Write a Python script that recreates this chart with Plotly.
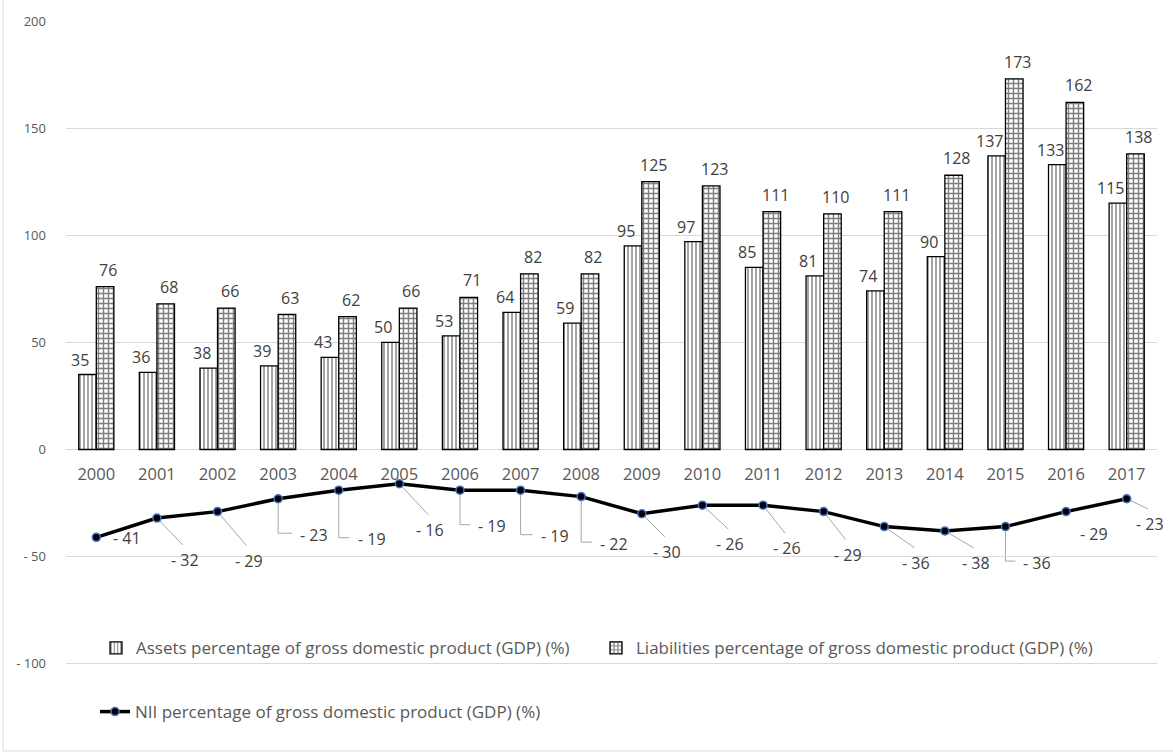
import numpy as np
import plotly.graph_objects as go

# ---- data -------------------------------------------------------------
years = [str(y) for y in range(2000, 2018)]
assets = [35, 36, 38, 39, 43, 50, 53, 64, 59, 95, 97, 85, 81, 74, 90, 137, 133, 115]
liabilities = [76, 68, 66, 63, 62, 66, 71, 82, 82, 125, 123, 111, 110, 111, 128, 173, 162, 138]
nii = [-41, -32, -29, -23, -19, -16, -19, -19, -22, -30, -26, -26, -29, -36, -38, -36, -29, -23]

y_ticks = [200, 150, 100, 50, 0, -50, -100]
y_tick_text = ["200", "150", "100", "50", "0", "- 50", "- 100"]

# ---- NII label placement (pixel offsets from the point, down = positive) ----
lbl_dx = [31, 28, 31, 36, 33, 31, 32, 34, 33, 25, 28, 24, 24, 32, 31, 32, 28, 23]
lbl_dy = [1, 42, 49, 36, 49, 46, 36, 46, 47, 38, 39, 43, 43, 36, 32, 36, 22, 25]
leader = ["none", "diag", "diag", "elbow", "elbow", "diag", "elbow", "elbow", "elbow",
          "diag", "diag", "diag", "diag", "diag", "diag", "elbow", "none", "diag"]

# ---- layout geometry --------------------------------------------------
W, H = 1173, 753
ML, MR, MT, MB = 66, 16, 19, 25
Y_MIN, Y_MAX = -130, 200
plot_w = W - ML - MR
plot_h = H - MT - MB

xpos = np.arange(len(years))

TXT = "#404040"
AX = "#595959"
GRID = "#d9d9d9"
FONT = "Open Sans"
FS = 16

fig = go.Figure()

fig.add_trace(go.Bar(
    x=xpos, y=assets, name="Assets percentage of gross domestic product (GDP) (%)",
    marker=dict(color="white", line=dict(color="black", width=1.3),
                pattern=dict(shape="|", size=4, solidity=0.35, fgcolor="black", bgcolor="white")),
    legend="legend",
))
fig.add_trace(go.Bar(
    x=xpos, y=liabilities, name="Liabilities percentage of gross domestic product (GDP) (%)",
    marker=dict(color="white", line=dict(color="black", width=1.3),
                pattern=dict(shape="+", size=5, solidity=0.5, fgcolor="black", bgcolor="white")),
    legend="legend",
))
fig.add_trace(go.Scatter(
    x=xpos, y=nii, name="NII percentage of gross domestic product (GDP) (%)",
    mode="lines+markers",
    line=dict(color="black", width=3.5),
    marker=dict(symbol="circle", size=8, color="black", line=dict(color="#4472c4", width=1.5)),
    legend="legend2",
))

annotations = []
shapes = []

# bar value labels
for i in range(len(years)):
    annotations.append(dict(x=xpos[i], y=assets[i], text=str(assets[i]), showarrow=False,
                            xanchor="center", yanchor="middle", xshift=-16, yshift=15,
                            font=dict(family=FONT, size=FS, color=TXT)))
    annotations.append(dict(x=xpos[i], y=liabilities[i], text=str(liabilities[i]), showarrow=False,
                            xanchor="center", yanchor="middle", xshift=12, yshift=17,
                            font=dict(family=FONT, size=FS, color=TXT)))

# NII labels with leader lines
for i in range(len(years)):
    dx, dy = lbl_dx[i], lbl_dy[i]
    annotations.append(dict(x=xpos[i], y=nii[i], text="- %d" % abs(nii[i]), showarrow=False,
                            xanchor="center", yanchor="middle", xshift=dx, yshift=-dy,
                            font=dict(family=FONT, size=FS, color=TXT)))
    if leader[i] == "diag":
        path = "M0,0 L%g,%g" % (dx - 2, -(dy - 15))
    elif leader[i] == "elbow":
        path = "M0,0 L0,%g L%g,%g" % (-(dy - 1.5), dx - 22, -(dy - 1.5))
    else:
        continue
    shapes.append(dict(type="path", xref="x", yref="y", xsizemode="pixel", ysizemode="pixel",
                       xanchor=xpos[i], yanchor=nii[i], path=path, layer="below",
                       line=dict(color="#a6a6a6", width=1)))

# outer chart frame
def px_to_paper_x(px):
    return (px - ML) / plot_w

def px_to_paper_y(py):
    return (H - MB - py) / plot_h

shapes.append(dict(type="rect", xref="paper", yref="paper",
                   x0=px_to_paper_x(3), x1=px_to_paper_x(W + 5),
                   y0=px_to_paper_y(751), y1=px_to_paper_y(-5),
                   line=dict(color=GRID, width=1), fillcolor="rgba(0,0,0,0)", layer="below"))

fig.update_layout(
    width=W, height=H,
    margin=dict(l=ML, r=MR, t=MT, b=MB, pad=0),
    paper_bgcolor="white", plot_bgcolor="white",
    barmode="group", bargap=0.42, bargroupgap=0,
    font=dict(family=FONT, color=AX),
    xaxis=dict(
        tickmode="array", tickvals=xpos, ticktext=years,
        range=[-0.5, len(years) - 0.5],
        showgrid=False, zeroline=False, showline=False, ticks="",
        anchor="free", position=(0 - Y_MIN) / (Y_MAX - Y_MIN),
        tickfont=dict(family=FONT, size=16.5, color=AX),
        ticklabelstandoff=13,
    ),
    yaxis=dict(
        range=[Y_MIN, Y_MAX], tickmode="array", tickvals=y_ticks, ticktext=y_tick_text,
        showgrid=True, gridcolor=GRID, gridwidth=1, zeroline=False, showline=False, ticks="",
        tickfont=dict(family=FONT, size=13, color=AX),
        ticklabelstandoff=19,
    ),
    legend=dict(
        orientation="h", x=px_to_paper_x(96), xanchor="left",
        y=px_to_paper_y(648), yanchor="middle",
        bgcolor="rgba(0,0,0,0)", borderwidth=0,
        entrywidth=455, entrywidthmode="pixels",
        font=dict(family=FONT, size=17, color=AX),
        traceorder="normal", itemclick=False,
    ),
    legend2=dict(
        orientation="h", x=px_to_paper_x(95), xanchor="left",
        y=px_to_paper_y(712), yanchor="middle",
        bgcolor="rgba(0,0,0,0)", borderwidth=0,
        font=dict(family=FONT, size=17, color=AX),
    ),
    annotations=annotations,
    shapes=shapes,
    showlegend=True,
)

fig.write_html("out.html")
